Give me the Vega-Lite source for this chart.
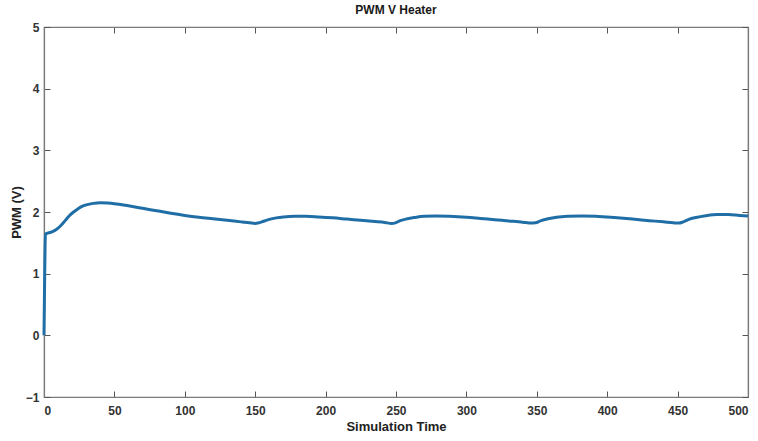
{
  "$schema": "https://vega.github.io/schema/vega-lite/v6.json",
  "width": 704,
  "height": 370,
  "autosize": {"type": "none"},
  "padding": {"left": 44, "top": 27, "right": 10, "bottom": 44},
  "background": "white",
  "title": {"text": "PWM V Heater", "font": "Liberation Sans", "fontSize": 12, "fontWeight": "bold", "color": "#1a1a1a", "offset": 4},
  "config": {
    "view": {"stroke": "#7a7a7a", "strokeWidth": 1.2},
    "axis": {"grid": false, "domainColor": "#7a7a7a", "tickColor": "#555555", "labelFont": "Liberation Sans", "labelFontSize": 12, "labelFontWeight": "bold", "labelColor": "#333333", "titleFont": "Liberation Sans", "titleFontSize": 13, "titleFontWeight": "bold", "titleColor": "#222222", "tickSize": -6, "domainWidth": 1.2}
  },
  "data": {"values": [
    {"t":0,"v":0},{"t":0.5,"v":1.0},{"t":1,"v":1.64},{"t":3,"v":1.66},{"t":6,"v":1.68},{"t":9,"v":1.72},{"t":12,"v":1.78},{"t":15,"v":1.86},{"t":18,"v":1.94},{"t":21,"v":2.0},{"t":24,"v":2.05},{"t":27,"v":2.09},{"t":30,"v":2.115},{"t":35,"v":2.14},{"t":40,"v":2.15},{"t":45,"v":2.145},{"t":50,"v":2.135},{"t":60,"v":2.1},{"t":70,"v":2.06},{"t":80,"v":2.02},{"t":90,"v":1.98},{"t":100,"v":1.945},{"t":110,"v":1.915},{"t":120,"v":1.89},{"t":130,"v":1.865},{"t":140,"v":1.84},{"t":146,"v":1.825},{"t":150,"v":1.815},{"t":152,"v":1.82},{"t":156,"v":1.85},{"t":160,"v":1.88},{"t":165,"v":1.905},{"t":170,"v":1.92},{"t":178,"v":1.93},{"t":186,"v":1.93},{"t":195,"v":1.92},{"t":205,"v":1.905},{"t":215,"v":1.885},{"t":225,"v":1.865},{"t":235,"v":1.845},{"t":242,"v":1.83},{"t":247,"v":1.815},{"t":249,"v":1.82},{"t":253,"v":1.86},{"t":258,"v":1.89},{"t":263,"v":1.91},{"t":270,"v":1.93},{"t":278,"v":1.935},{"t":288,"v":1.93},{"t":300,"v":1.915},{"t":310,"v":1.895},{"t":320,"v":1.875},{"t":330,"v":1.855},{"t":340,"v":1.835},{"t":346,"v":1.82},{"t":349,"v":1.825},{"t":353,"v":1.86},{"t":358,"v":1.89},{"t":364,"v":1.915},{"t":372,"v":1.93},{"t":382,"v":1.935},{"t":392,"v":1.93},{"t":405,"v":1.91},{"t":418,"v":1.885},{"t":430,"v":1.86},{"t":440,"v":1.84},{"t":447,"v":1.825},{"t":451,"v":1.82},{"t":454,"v":1.84},{"t":458,"v":1.88},{"t":463,"v":1.91},{"t":470,"v":1.94},{"t":478,"v":1.96},{"t":486,"v":1.96},{"t":494,"v":1.945},{"t":500,"v":1.935}
  ]},
  "resolve": {"axis": {"x": "independent", "y": "independent"}},
  "layer": [
    {
      "mark": {"type": "line", "color": "#1f6fa6", "strokeWidth": 3, "interpolate": "monotone"},
      "encoding": {
        "x": {"field": "t", "type": "quantitative", "scale": {"domain": [0, 500], "nice": false}, "axis": {"title": "Simulation Time", "values": [0,50,100,150,200,250,300,350,400,450,500], "labelPadding": 14, "titlePadding": 4}},
        "y": {"field": "v", "type": "quantitative", "scale": {"domain": [-1, 5], "nice": false}, "axis": {"title": "PWM (V)", "values": [-1,0,1,2,3,4,5], "labelPadding": 11, "titlePadding": 2}}
      }
    },
    {
      "mark": {"type": "line", "opacity": 0},
      "encoding": {
        "x": {"field": "t", "type": "quantitative", "scale": {"domain": [0, 500], "nice": false}, "axis": {"orient": "top", "title": null, "labels": false, "values": [0,50,100,150,200,250,300,350,400,450,500]}},
        "y": {"field": "v", "type": "quantitative", "scale": {"domain": [-1, 5], "nice": false}, "axis": {"orient": "right", "title": null, "labels": false, "values": [-1,0,1,2,3,4,5]}}
      }
    }
  ]
}
